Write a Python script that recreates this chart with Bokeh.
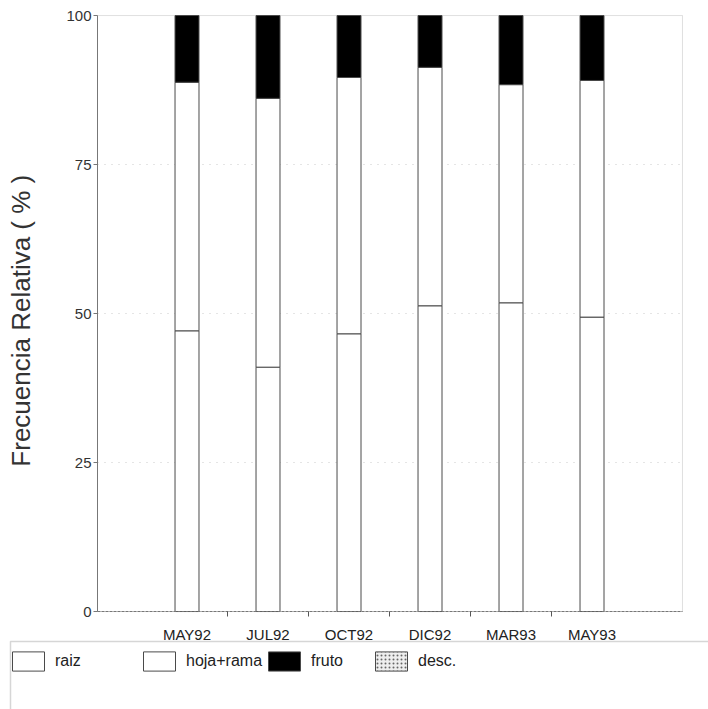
from bokeh.plotting import figure
from bokeh.models import Range1d, FixedTicker, Legend, LegendItem, ColumnDataSource, BoxAnnotation
from bokeh.embed import file_html
from bokeh.resources import INLINE

# ---- data ----
months = ["MAY92", "JUL92", "OCT92", "DIC92", "MAR93", "MAY93"]
raiz = [47.1, 41.0, 46.6, 51.3, 51.8, 49.4]
hoja_rama = [41.7, 45.1, 43.0, 40.0, 36.6, 39.7]
fruto = [11.2, 13.9, 10.4, 8.7, 11.6, 10.9]
desc = [0.0, 0.0, 0.0, 0.0, 0.0, 0.0]
y_ticks = [0, 25, 50, 75, 100]
series_labels = ["raiz", "hoja+rama", "fruto", "desc."]
series_keys = ["raiz", "hoja", "fruto", "desc"]

pos = list(range(1, len(months) + 1))
bounds = [v + 0.5 for v in pos[:-1]]

src = ColumnDataSource(dict(x=pos, raiz=raiz, hoja=hoja_rama, fruto=fruto, desc=desc))

FONT = "Liberation Sans"
EDGE = "#4a4a4a"

# layout constants: the plotting area inside a full-canvas frame
X_LO, X_HI = -0.105, 7.117          # plot area left / right (data units)
Y_LO, Y_HI = 0, 100                 # plot area bottom / top

p = figure(width=708, height=709,
           x_range=Range1d(-1.3025, 7.438), y_range=Range1d(-16.44, 102.52),
           output_backend="svg", toolbar_location=None,
           min_border_left=0, min_border_right=0, min_border_top=0, min_border_bottom=0)
p.outline_line_color = None
p.background_fill_color = "white"
p.border_fill_color = "white"

fills = ["white", "white", "black", "#eeeeee"]
hatches = [None, None, None, "dot"]
renderers = p.vbar_stack(series_keys, x="x", width=0.296, source=src,
                         fill_color=fills, hatch_pattern=hatches, hatch_color="#666666",
                         hatch_scale=4, line_color=EDGE, line_width=1)

# plot-area border
frame_box = BoxAnnotation(left=X_LO, right=X_HI, bottom=Y_LO, top=Y_HI,
                          fill_color=None, fill_alpha=0, line_color="#999999", line_width=1,
                          level="underlay")
p.add_layout(frame_box)

# axes placed at fixed locations inside the canvas
p.yaxis.fixed_location = X_LO
p.yaxis.bounds = (Y_LO, Y_HI)
p.yaxis.ticker = FixedTicker(ticks=y_ticks)
p.yaxis.major_tick_out = 4
p.yaxis.major_tick_in = 0
p.yaxis.minor_tick_line_color = None
p.yaxis.major_label_standoff = 2
p.yaxis.axis_line_color = "#777777"
p.yaxis.major_tick_line_color = "#777777"
p.yaxis.major_label_text_font = FONT
p.yaxis.major_label_text_font_size = "15px"
p.yaxis.major_label_text_color = "#333333"
p.yaxis.axis_label = "Frecuencia  Relativa  ( % )"
p.yaxis.axis_label_text_font = FONT
p.yaxis.axis_label_text_font_size = "26px"
p.yaxis.axis_label_text_font_style = "normal"
p.yaxis.axis_label_text_color = "#333333"
p.yaxis.axis_label_standoff = 27

p.xaxis.fixed_location = Y_LO
p.xaxis.bounds = (X_LO, X_HI)
p.xaxis.ticker = FixedTicker(ticks=pos, minor_ticks=bounds)
p.xaxis.major_label_overrides = {v: m for v, m in zip(pos, months)}
p.xaxis.major_tick_line_color = None
p.xaxis.minor_tick_out = 5
p.xaxis.minor_tick_in = 0
p.xaxis.minor_tick_line_color = "#555555"
p.xaxis.axis_line_color = "#777777"
p.xaxis.axis_line_dash = "3 1"
p.xaxis.major_label_standoff = 8
p.xaxis.major_label_text_font = FONT
p.xaxis.major_label_text_font_size = "15px"
p.xaxis.major_label_text_color = "#222222"

p.xgrid.visible = False
g = p.ygrid[0]
g.ticker = FixedTicker(ticks=y_ticks[1:-1])
g.grid_line_color = "#999999"
g.grid_line_dash = "1 6"
g.grid_line_alpha = 0.5
if hasattr(g, "cross_bounds"):
    g.cross_bounds = (X_LO, X_HI)
else:
    g.visible = False

# ---- legend box below the plot ----
legend_box = BoxAnnotation(left=10, right=720, top=641, bottom=720,
                           left_units="canvas", right_units="canvas",
                           top_units="canvas", bottom_units="canvas",
                           fill_color=None, fill_alpha=0, line_color="#777777", line_width=1.5)
p.add_layout(legend_box)

item_x = [8, 139, 264, 371]
for lab, r, vx in zip(series_labels, renderers, item_x):
    leg = Legend(items=[LegendItem(label=lab, renderers=[r])], location=(vx, 36),
                 orientation="horizontal", padding=0, margin=0, spacing=0,
                 glyph_width=40, glyph_height=24, label_height=24, label_standoff=7,
                 label_text_font=FONT, label_text_font_size="16px", label_text_color="#222222",
                 border_line_color=None, background_fill_alpha=0)
    p.add_layout(leg)

open("out.html", "w").write(file_html(p, INLINE))
